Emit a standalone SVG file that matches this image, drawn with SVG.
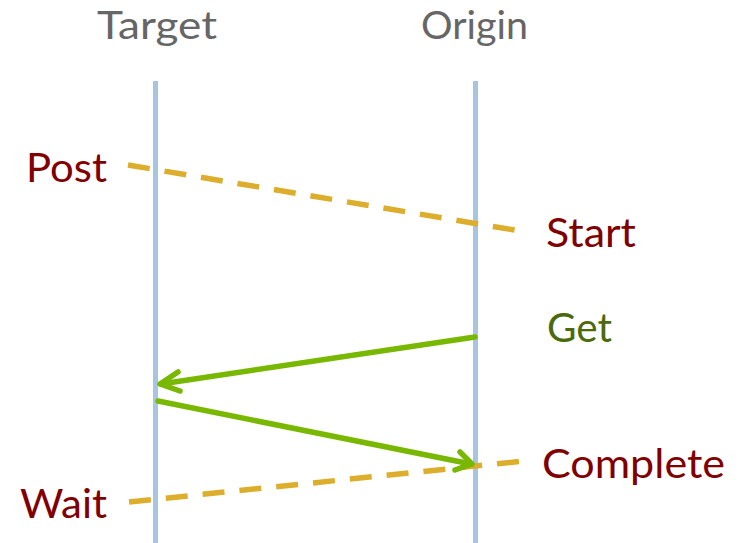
<svg xmlns="http://www.w3.org/2000/svg" width="742" height="543" viewBox="0 0 742 543">
  <defs>
    <style>
      .lane { stroke: #a7c4e0; stroke-width: 5; fill: none; }
      .sync { stroke: #dcae2c; stroke-width: 5.5; stroke-dasharray: 22 15; fill: none; }
      .msg { stroke: #78b800; stroke-width: 5.5; fill: none; stroke-linecap: round; }
      .head { stroke: #78b800; stroke-width: 5.5; fill: none; stroke-linecap: round; stroke-linejoin: round; }
      text { font-family: Lato, "Open Sans", "Liberation Sans", sans-serif; font-size: 41px; }
      .title { fill: #666666; font-size: 38px; }
      .event { fill: #800000; }
      .op { fill: #4a6a0c; }
    </style>
  </defs>

  <rect width="742" height="543" fill="#ffffff"/>

  <g id="target">
    <line class="lane" x1="155.5" y1="81" x2="155.5" y2="543"/>
    <text class="title" x="97" y="38.5" textLength="120" lengthAdjust="spacingAndGlyphs">Target</text>
  </g>

  <g id="origin">
    <line class="lane" x1="475.5" y1="81" x2="475.5" y2="543"/>
    <text class="title" x="421" y="38.5" textLength="107" lengthAdjust="spacingAndGlyphs">Origin</text>
  </g>

  <g id="labels">
    <text class="event" x="26" y="182" textLength="81" lengthAdjust="spacingAndGlyphs">Post</text>
    <text class="event" x="546" y="247" textLength="90" lengthAdjust="spacingAndGlyphs">Start</text>
    <text class="op" x="547" y="342" textLength="65" lengthAdjust="spacingAndGlyphs">Get</text>
    <text class="event" x="542" y="478" textLength="183" lengthAdjust="spacingAndGlyphs">Complete</text>
    <text class="event" x="20" y="518" textLength="87" lengthAdjust="spacingAndGlyphs">Wait</text>
  </g>

  <g id="connectors">
    <line class="sync" x1="128" y1="165" x2="520" y2="231"/>
    <line class="sync" x1="129" y1="502" x2="524" y2="461"/>
    <line class="msg" x1="475" y1="337" x2="161" y2="384"/>
    <polyline class="head" points="178,372 160,384 180,391"/>
    <line class="msg" x1="158" y1="401" x2="471" y2="464"/>
    <polyline class="head" points="460,452 472,464 455,470"/>
  </g>
</svg>
